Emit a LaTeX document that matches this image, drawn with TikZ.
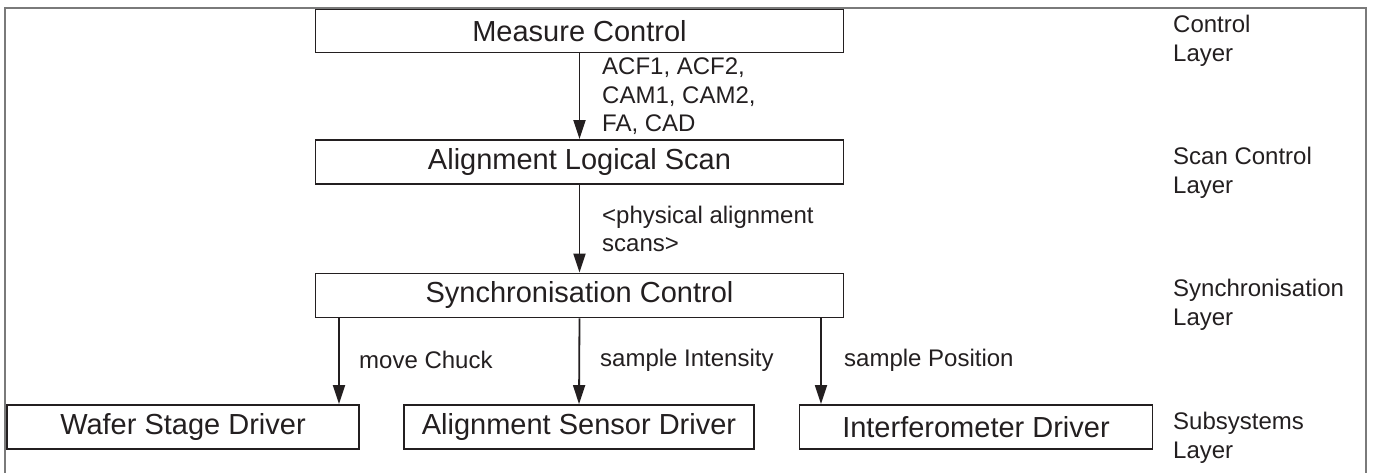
\documentclass[tikz,border=0pt]{standalone}
\usepackage{fontspec}
\setmainfont{Liberation Sans}
\usetikzlibrary{arrows.meta}
\definecolor{ink}{HTML}{231F20}
\definecolor{framegray}{HTML}{7A7A7A}
\tikzset{
  block/.style={draw=ink, line width=1.8pt, inner sep=0pt, minimum height=44pt,
    font=\fontsize{29}{33}\selectfont, text=ink},
  flow/.style={draw=ink, line width=1.8pt, -{Triangle[length=19pt,width=12pt]}},
  note/.style={anchor=west, inner sep=0pt, align=left, text=ink,
    font=\fontsize{24}{28.5}\selectfont},
  layer/.style={anchor=west, inner sep=0pt, align=left, text=ink,
    font=\fontsize{24}{29}\selectfont}
}
\begin{document}
\begin{tikzpicture}[x=1pt,y=-1pt]
\useasboundingbox (0,0) rectangle (1374,473);
% open frame around the layers
\draw[framegray, line width=1.1pt] (5,473) -- (5,8) -- (1366,8) -- (1366,473);

% control blocks
\node[block, minimum width=528pt, minimum height=43pt] (mc) at (579.5,31) {Measure Control};
\node[block, minimum width=528pt] (als) at (579.5,162) {Alignment Logical Scan};
\node[block, minimum width=528pt] (sc) at (579.5,295.5) {Synchronisation Control};

% subsystem drivers
\node[block, minimum width=352pt] (wsd) at (183,427) {Wafer Stage Driver};
\node[block, minimum width=350pt] (asd) at (579,427) {Alignment Sensor Driver};
\node[block, minimum width=353pt] (ifd) at (976,427) {Interferometer Driver};

% calls between layers
\draw[flow] (mc.south) -- (als.north);
\draw[flow] (als.south) -- (sc.north);
\draw[flow] (sc.south -| 339,0) -- (wsd.north -| 339,0);
\draw[flow] (sc.south) -- (asd.north);
\draw[flow] (sc.south -| 821,0) -- (ifd.north -| 821,0);

% call labels
\node[note] (l1) at (602,96.5) {ACF1, ACF2,\\CAM1, CAM2,\\FA, CAD};
\node[note] (l2) at (602,229) {<physical alignment\\scans>};
\node[note] (l3) at (359,360) {move Chuck};
\node[note] (l4) at (600,360) {sample Intensity};
\node[note] (l5) at (844,360) {sample Position};

% layer names
\node[layer] (n1) at (1173,40.5) {Control\\Layer};
\node[layer] (n2) at (1173,172.5) {Scan Control\\Layer};
\node[layer] (n3) at (1173,304.5) {Synchronisation\\Layer};
\node[layer] (n4) at (1173,437.5) {Subsystems\\Layer};
\end{tikzpicture}
\end{document}
